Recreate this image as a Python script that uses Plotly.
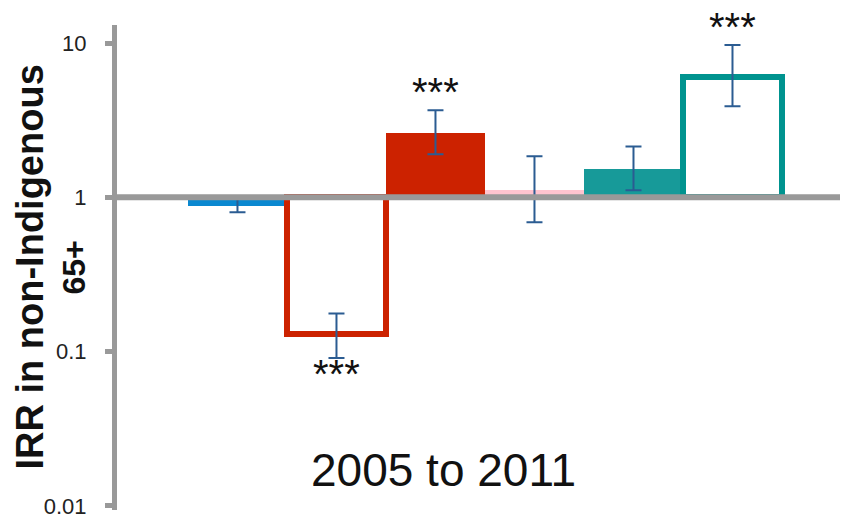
import numpy as np
import plotly.graph_objects as go

# Incidence rate ratios (IRR) relative to non-Indigenous 65+, 2005 to 2011
groups = ["g1", "g2", "g3", "g4", "g5", "g6"]
irr = np.array([0.875, 0.131, 2.62, 1.12, 1.52, 6.0])
ci_low = np.array([0.80, 0.091, 1.90, 0.69, 1.11, 3.9])
ci_high = np.array([0.99, 0.177, 3.67, 1.85, 2.14, 9.7])
fill_colors = ["#0A88D0", "#FFFFFF", "#CC2200", "#FFC4CF", "#179A99", "#FFFFFF"]
line_colors = ["#0A88D0", "#CC2200", "#CC2200", "#FFC4CF", "#179A99", "#00938F"]
line_widths = [0, 6, 0, 0, 0, 6]
stars = ["", "***", "***", "", "", "***"]

tick_vals = [0.01, 0.1, 1, 10]
tick_text = ["0.01", "0.1", "1", "10"]

GRAY = "#999999"
FONT = "Liberation Sans, Arial, sans-serif"
Y_RANGE = [-2.026, 1.117]  # log10 units

x = np.arange(len(groups))
fig = go.Figure()

# Bars grow from the reference line at IRR = 1
fig.add_trace(go.Bar(
    x=x,
    y=irr - 1,
    base=1,
    width=1,
    marker=dict(color=fill_colors, line=dict(color=line_colors, width=line_widths)),
    error_y=dict(
        type="data",
        symmetric=False,
        array=ci_high - irr,
        arrayminus=irr - ci_low,
        color="#2B5C92",
        thickness=2,
        width=8,
    ),
    hoverinfo="skip",
    showlegend=False,
))

# Significance markers: above the CI for ratios > 1, below it for ratios < 1
for i, s in enumerate(stars):
    if not s:
        continue
    if irr[i] >= 1:
        fig.add_annotation(x=x[i], y=np.log10(ci_high[i]), text=s, showarrow=False,
                           yanchor="bottom", yshift=-6,
                           font=dict(family=FONT, size=40, color="#111111"))
    else:
        fig.add_annotation(x=x[i], y=np.log10(ci_low[i]), text=s, showarrow=False,
                           yanchor="top", yshift=8,
                           font=dict(family=FONT, size=40, color="#111111"))

fig.add_annotation(xref="paper", yref="paper", x=0.452, y=0.082, text="2005 to 2011",
                   xanchor="center", yanchor="middle", showarrow=False,
                   font=dict(family=FONT, size=46, color="#111111"))

# Y-axis title, two bold rotated lines
fig.add_annotation(xref="paper", yref="paper", x=-0.1217, y=0.5,
                   text="<b>IRR in non-Indigenous</b>", textangle=-90,
                   xanchor="center", yanchor="middle", showarrow=False,
                   font=dict(family=FONT, size=38, color="#111111"))
fig.add_annotation(xref="paper", yref="paper", x=-0.0595, y=0.5,
                   text="<b>65+</b>", textangle=-90,
                   xanchor="center", yanchor="middle", showarrow=False,
                   font=dict(family=FONT, size=32, color="#111111"))

# Horizontal reference line at IRR = 1 (position as a fraction of the log range)
one_frac = (0 - Y_RANGE[0]) / (Y_RANGE[1] - Y_RANGE[0])
fig.add_shape(type="line", xref="x domain", x0=0, x1=1, yref="y domain",
              y0=one_frac, y1=one_frac,
              line=dict(color=GRAY, width=6), layer="above")

fig.update_layout(
    width=846,
    height=520,
    margin=dict(l=117, r=6, t=25, b=10, autoexpand=False),
    paper_bgcolor="white",
    plot_bgcolor="white",
    bargap=0,
    font=dict(family=FONT, color="#111111"),
    xaxis=dict(range=[-1.217, 6.086], showgrid=False, zeroline=False,
               showticklabels=False, ticks="", showline=False, automargin=False),
    yaxis=dict(
        type="log",
        range=Y_RANGE,
        tickvals=tick_vals,
        ticktext=tick_text,
        showgrid=False,
        zeroline=False,
        showline=True,
        linecolor=GRAY,
        linewidth=5,
        ticks="outside",
        ticklen=7,
        tickwidth=5,
        tickcolor=GRAY,
        ticklabelstandoff=14,
        automargin=False,
        tickfont=dict(family=FONT, size=22, color="#222222"),
    ),
)

fig.write_html("out.html")
